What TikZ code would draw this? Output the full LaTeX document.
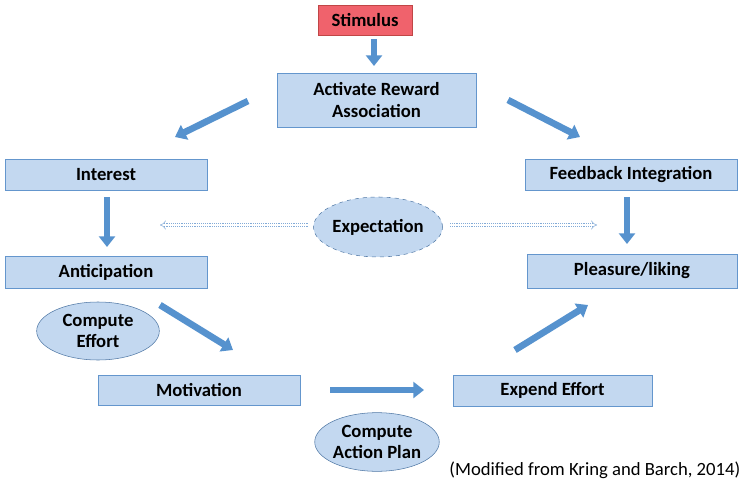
\documentclass[tikz,border=0pt]{standalone}
\usepackage{fontspec}
\setmainfont{Carlito}
\usetikzlibrary{shapes.geometric,arrows.meta}

\definecolor{boxfill}{RGB}{195,216,240}
\definecolor{boxline}{RGB}{100,150,205}
\definecolor{arrowfill}{RGB}{86,146,206}
\definecolor{ovalline}{RGB}{80,120,165}
\definecolor{redfill}{RGB}{240,98,108}
\definecolor{redline}{RGB}{192,70,70}

\begin{document}
\begin{tikzpicture}[x=0.75pt, y=-0.75pt,
  stagebox/.style={rectangle, draw=boxline, fill=boxfill, text centered, inner sep=0pt, font=\bfseries\fontsize{14}{16}\selectfont},
  oval/.style={ellipse, draw=ovalline, fill=boxfill, align=center, inner sep=0pt, font=\bfseries\fontsize{14}{16}\selectfont},
  fatarrow/.style={draw=arrowfill, line width=5pt, -{Triangle[length=8pt, width=12pt]}},
  hollowarrow/.style={draw=boxline!80, densely dotted, double=white, double distance=2pt, -{Implies}}]

  \useasboundingbox (0,0) rectangle (750,492);

  % Define the stages
  \node (stimulus) [stagebox, fill=redfill, draw=redline, minimum width=70.5pt, minimum height=22.5pt] at (365,20) {Stimulus};
  \node (activate) [stagebox, align=center, minimum width=149pt, minimum height=40.5pt] at (376.5,100) {Activate Reward\\Association};
  \node (interest) [stagebox, minimum width=151.5pt, minimum height=23.5pt] at (106,174.5) {Interest};
  \node (feedback) [stagebox, minimum width=159pt, minimum height=23.5pt] at (631,174.5) {Feedback Integration};
  \node (anticip) [stagebox, minimum width=151.5pt, minimum height=24pt] at (106,272) {Anticipation};
  \node (pleasure) [stagebox, minimum width=157.5pt, minimum height=25.5pt] at (632,271) {Pleasure/liking};
  \node (motiv) [stagebox, minimum width=151.5pt, minimum height=22.5pt] at (199,390) {Motivation};
  \node (expend) [stagebox, minimum width=149pt, minimum height=23.5pt] at (552.5,390.5) {Expend Effort};

  % Ovals
  \node (expect) [oval, dashed, minimum width=94pt, minimum height=45pt] at (378,227) {Expectation};
  \node (effort) [oval, minimum width=92pt, minimum height=43.5pt] at (98,331) {Compute\\Effort};
  \node (plan) [oval, minimum width=92pt, minimum height=44pt] at (377,442) {Compute\\Action Plan};

  % Arrow ends
  \coordinate (stimB) at (374,39);
  \coordinate (actT) at (374,66);
  \coordinate (actL) at (248,101);
  \coordinate (intT) at (175,137);
  \coordinate (actR) at (508,100);
  \coordinate (fbT) at (580,137);
  \coordinate (intB) at (107,197);
  \coordinate (antT) at (107,247);
  \coordinate (fbB) at (627,197);
  \coordinate (plT) at (627,244);
  \coordinate (antB) at (160,305);
  \coordinate (motT) at (233,350);
  \coordinate (motR) at (330,390);
  \coordinate (expL) at (424,390);
  \coordinate (expT) at (515,350);
  \coordinate (plB) at (588,305);
  \coordinate (expectL) at (308,225);
  \coordinate (intmid) at (160,225);
  \coordinate (expectR) at (450,225);
  \coordinate (plmid) at (597,225);

  % Arrows between the stages
  \draw[fatarrow] (stimB) -- (actT);
  \draw[fatarrow] (actL) -- (intT);
  \draw[fatarrow] (actR) -- (fbT);
  \draw[fatarrow] (intB) -- (antT);
  \draw[fatarrow] (fbB) -- (plT);
  \draw[fatarrow] (antB) -- (motT);
  \draw[fatarrow] (motR) -- (expL);
  \draw[fatarrow] (expT) -- (plB);

  % Expectation links
  \draw[hollowarrow] (expectL) -- (intmid);
  \draw[hollowarrow] (expectR) -- (plmid);

  % Source note
  \node (source) [anchor=east, font=\fontsize{14}{16}\selectfont] at (745,470) {(Modified from Kring and Barch, 2014)};

\end{tikzpicture}
\end{document}
